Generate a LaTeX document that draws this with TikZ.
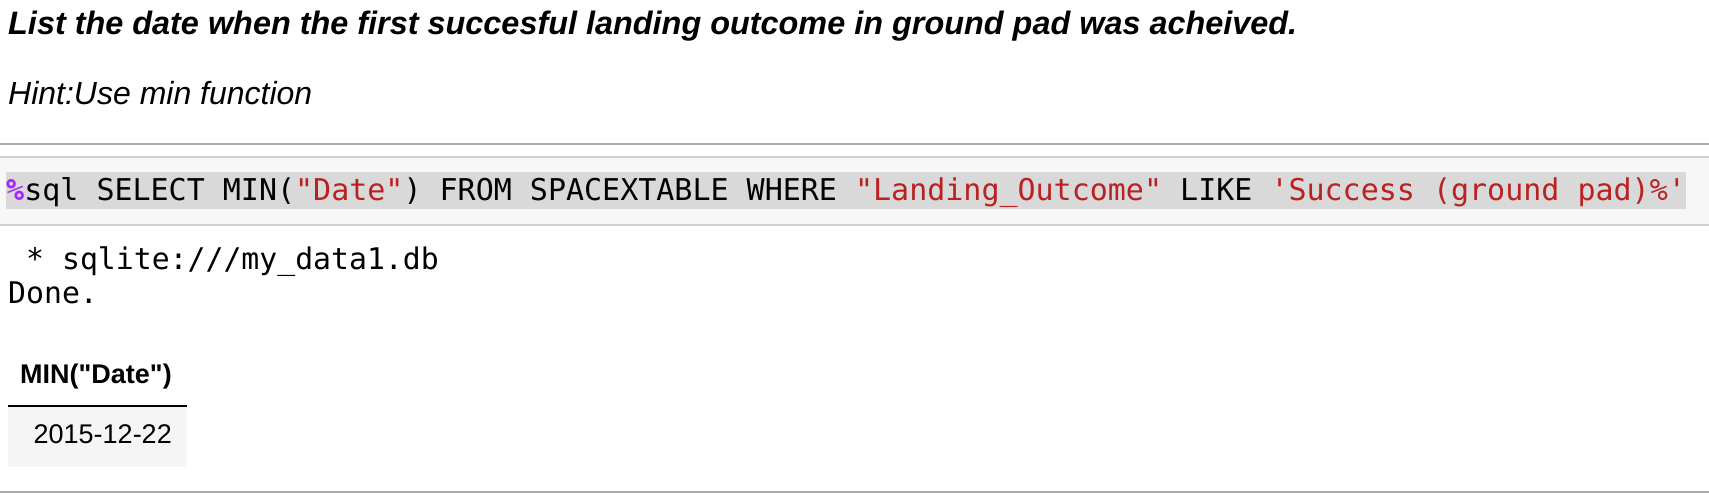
\documentclass[tikz,border=0pt]{standalone}
\usepackage{fontspec}
\setmainfont{Liberation Sans}
\setmonofont{DejaVu Sans Mono}
\definecolor{sepgray}{HTML}{ABABAB}
\definecolor{cellline}{HTML}{CFCFCF}
\definecolor{cellbg}{HTML}{F7F7F7}
\definecolor{hlgray}{HTML}{D9D9D9}
\definecolor{magicpurple}{HTML}{AA22FF}
\definecolor{strred}{HTML}{BA2121}
\definecolor{rowbg}{HTML}{F5F5F5}
\begin{document}
\begin{tikzpicture}[x=1pt, y=-1pt,
    prose/.style={anchor=base west, inner sep=0pt, font=\fontsize{32}{38}\selectfont\itshape},
    codeline/.style={anchor=base west, inner sep=0pt, fill=hlgray, text height=29pt, text depth=8pt, font=\fontsize{30}{34}\selectfont\ttfamily},
    outline/.style={anchor=base west, inner sep=0pt, font=\fontsize{29.8}{34}\selectfont\ttfamily},
    cell/.style={inner sep=0pt, font=\fontsize{27}{32}\selectfont},
    sepline/.style={draw=sepgray, line width=2pt}]

    \useasboundingbox (0,0) rectangle (1709,497);

    % markdown cell
    \node [prose, font=\fontsize{32.4}{38}\selectfont\bfseries\itshape] (title) at (8,35) {List the date when the first succesful landing outcome in ground pad was acheived.};
    \node [prose] (hint) at (8,105) {Hint:Use min function};
    \draw [sepline] (0,144) -- (1709,144);

    % code cell
    \fill [cellbg] (0,157) rectangle (1709,225);
    \draw [cellline, line width=1.5pt] (0,157) -- (1709,157);
    \draw [cellline, line width=1.5pt] (0,225) -- (1709,225);
    \node [codeline] (query) at (6,201) {\textcolor{magicpurple}{\bfseries\%}sql SELECT MIN(\textcolor{strred}{"Date"}) FROM SPACEXTABLE WHERE \textcolor{strred}{"Landing\_Outcome"} LIKE \textcolor{strred}{'Success (ground pad)\%'}};

    % output
    \node [outline] (conn) at (26,270) {* sqlite:///my\_data1.db};
    \node [outline] (done) at (8,303) {Done.};

    % result table
    \fill [rowbg] (8,406) rectangle (187,467);
    \draw [line width=2pt] (8,406) -- (187,406);
    \node [cell, anchor=base west, font=\fontsize{27}{32}\selectfont\bfseries] (colhead) at (20,383) {MIN(\textquotedbl Date\textquotedbl)};
    \node [cell, anchor=base east] (mindate) at (172,443) {2015-12-22};
    \draw [sepline] (0,492) -- (1709,492);
\end{tikzpicture}
\end{document}
